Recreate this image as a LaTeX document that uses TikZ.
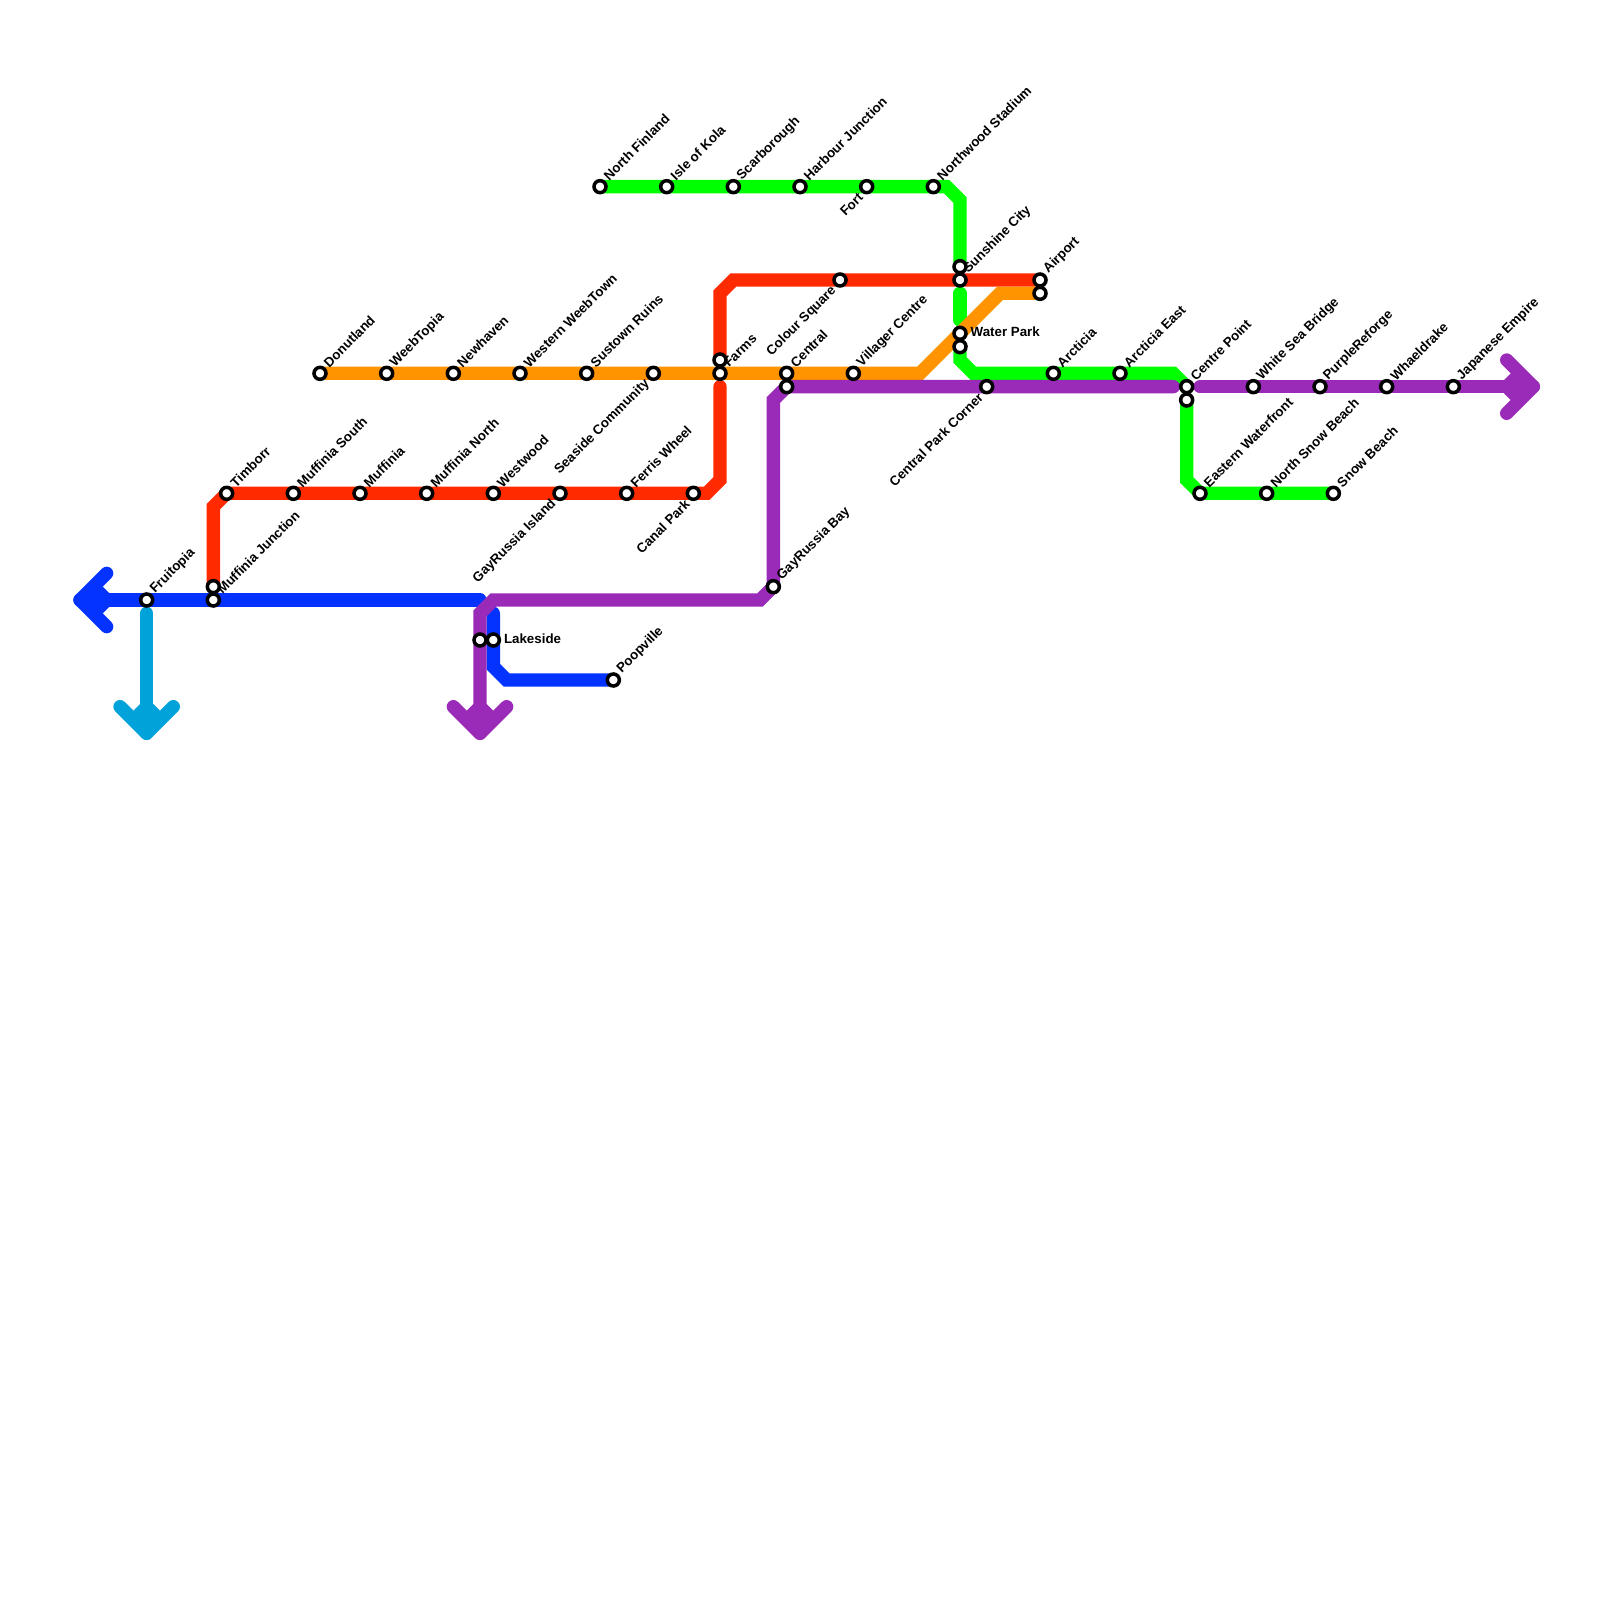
\documentclass[tikz,border=0pt]{standalone}
\usepackage{fontspec}
\usepackage{xcolor}
\usepackage{tikz}
\usetikzlibrary{backgrounds}
\setmainfont{Liberation Sans}
\definecolor{redLine}{HTML}{FF2A00}
\definecolor{orangeLine}{HTML}{FF9300}
\definecolor{greenLine}{HTML}{00FF00}
\definecolor{blueLine}{HTML}{0433FF}
\definecolor{purpleLine}{HTML}{9A2BB8}
\definecolor{cyanLine}{HTML}{00A3D9}
\tikzset{
    station/.style={circle, draw=black, fill=white, line width=1.5pt, minimum size=0.18cm, inner sep=0pt, outer sep=0pt},
    stationtext/.style={font=\fontsize{5.69pt}{6pt}\selectfont\bfseries, inner sep=0pt, outer sep=0pt},
    metro/.style={line width=5.69pt, line cap=round, line join=miter},
    chevron/.style={line width=5.69pt, line cap=round, line join=round}
}
\begin{document}
\begin{tikzpicture}[x=0.2cm, y=-0.2cm]
    \useasboundingbox (0,0) rectangle (120,120);
    % labelled up and to the right
    \foreach \sname/\sx/\sy/\stext in {
        fruitopia/11/45/Fruitopia, muffjunction/16/45/Muffinia Junction, timborr/17/37/Timborr,
        muffsouth/22/37/Muffinia South, muffinia/27/37/Muffinia, muffnorth/32/37/Muffinia North,
        westwood/37/37/Westwood, ferris/47/37/Ferris Wheel, donutland/24/28/Donutland,
        weebtopia/29/28/WeebTopia, newhaven/34/28/Newhaven, westernweeb/39/28/Western WeebTown,
        sustown/44/28/Sustown Ruins, farms/54/28/Farms, central/59/28/Central,
        villager/64/28/Villager Centre, northfinland/45/14/North Finland, kola/50/14/Isle of Kola,
        scarborough/55/14/Scarborough, harbour/60/14/Harbour Junction, northwood/70/14/Northwood Stadium,
        sunshine/72/21/Sunshine City, airport/78/21/Airport, arcticia/79/28/Arcticia,
        arcticiaeast/84/28/Arcticia East, centrepoint/89/29/Centre Point, whitesea/94/29/White Sea Bridge,
        purplereforge/99/29/PurpleReforge, whaeldrake/104/29/Whaeldrake, japanese/109/29/Japanese Empire,
        easternwater/90/37/Eastern Waterfront, northsnow/95/37/North Snow Beach, snowbeach/100/37/Snow Beach,
        gayrussiabay/58/44/GayRussia Bay, poopville/46/51/Poopville}
    {
        \node[station] (\sname) at (\sx,\sy) {};
        \node[stationtext, rotate=45, anchor=west] (\sname-text) at ([shift={(0.45,-0.65)}]\sname.center) {\stext};
    }
    % labelled down and to the left
    \foreach \sname/\sx/\sy/\stext in {
        gayrussia/42/37/GayRussia Island, canalpark/52/37/Canal Park, seaside/49/28/Seaside Community,
        coloursquare/63/21/Colour Square, fort/65/14/Fort, centralpark/74/29/Central Park Corner}
    {
        \node[station] (\sname) at (\sx,\sy) {};
        \node[stationtext, rotate=45, anchor=east] (\sname-text) at ([shift={(-0.45,0.65)}]\sname.center) {\stext};
    }
    % labelled to the right
    \foreach \sname/\sx/\sy/\stext in {waterpark/72/25/Water Park, lakeside/37/48/Lakeside}
    {
        \node[station] (\sname) at (\sx,\sy) {};
        \node[stationtext, anchor=west] (\sname-text) at ([shift={(0.8,-0.1)}]\sname.center) {\stext};
    }
    % second stop of an interchange
    \foreach \sname/\sx/\sy in {
        muffjunctiontop/16/44, farmstop/54/27, centrallow/59/29, sunshinetop/72/20,
        airportlow/78/22, waterparklow/72/26, centrelow/89/30, lakesidewest/36/48}
        \node[station] (\sname) at (\sx,\sy) {};
    \coordinate (blueTip) at (6,45);
    \coordinate (cyanTip) at (11,55);
    \coordinate (purpleTip) at (36,55);
    \coordinate (eastTip) at (115,29);
    \begin{scope}[on background layer]
        \draw[metro, blueLine] (blueTip) -- (36,45);
        \draw[metro, blueLine] (37,46) -- (37,50) -- (38,51) -- (poopville.center);
        \draw[metro, cyanLine] (11,46) -- (cyanTip);
        \draw[metro, redLine] (muffjunctiontop.center) -- (16,38) -- (timborr.center) -- (53,37) -- (54,36) -- (54,29);
        \draw[metro, redLine] (farmstop.center) -- (54,22) -- (55,21) -- (airport.center);
        \draw[metro, greenLine] (northfinland.center) -- (71,14) -- (72,15) -- (sunshinetop.center);
        \draw[metro, greenLine] (72,22) -- (72,24);
        \draw[metro, greenLine] (waterparklow.center) -- (72,27) -- (73,28) -- (88,28) -- (centrepoint.center);
        \draw[metro, greenLine] (centrelow.center) -- (89,36) -- (easternwater.center) -- (snowbeach.center);
        \draw[metro, orangeLine] (donutland.center) -- (69,28) -- (75,22) -- (airportlow.center);
        \draw[metro, purpleLine] (purpleTip) -- (36,46) -- (37,45) -- (57,45) -- (gayrussiabay.center) -- (58,30) -- (centrallow.center) -- (88,29);
        \draw[metro, purpleLine] (90,29) -- (eastTip);
        % arrow heads at the open ends
        \foreach \tip/\col/\ang in {blueTip/blueLine/-90, cyanTip/cyanLine/0, purpleTip/purpleLine/0, eastTip/purpleLine/90}
        {
            \draw[chevron, \col, shift={(\tip)}, rotate=\ang] (-2,-2) -- (0,0) -- (2,-2);
            \fill[\col, shift={(\tip)}, rotate=\ang] (0,0) -- (-1,-1.7) -- (-0.5,-2.2) -- (0.5,-2.2) -- (1,-1.7) -- cycle;
        }
    \end{scope}
\end{tikzpicture}
\end{document}
